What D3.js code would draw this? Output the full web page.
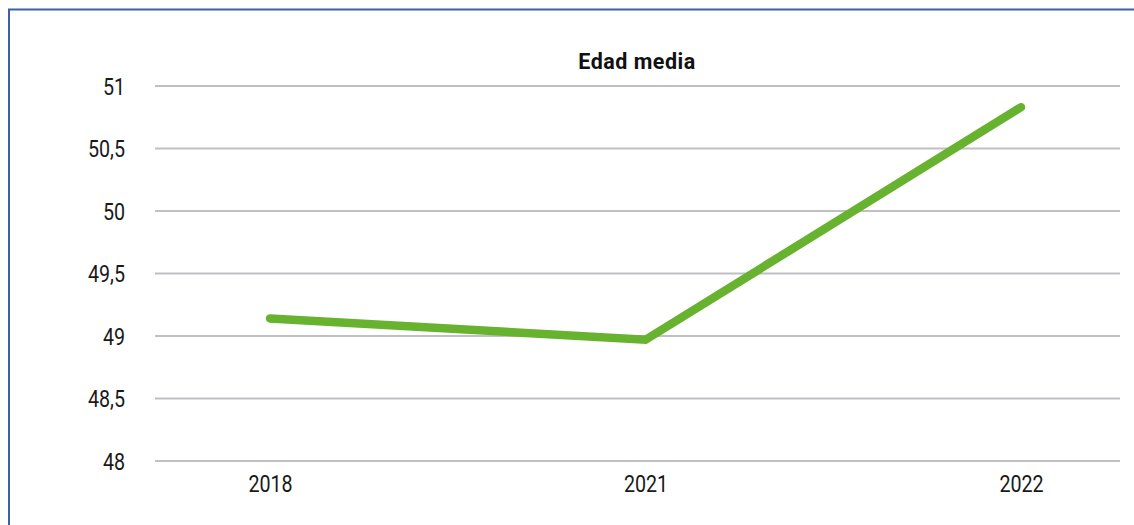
<!DOCTYPE html>
<html>
<head>
<meta charset="utf-8">
<script src="https://cdn.jsdelivr.net/npm/d3@7"></script>
<style>
  html, body { margin: 0; padding: 0; background: #fff; }
  svg { display: block; }
  .tick-label { font-family: "Roboto", "Liberation Sans", sans-serif; font-size: 24px; fill: #1a1a1a; }
  .title { font-family: "Roboto", "Liberation Sans", sans-serif; font-size: 21.5px; font-weight: bold; letter-spacing: 0.5px; fill: #111; }
</style>
</head>
<body>
<svg id="chart" width="1134" height="525"></svg>
<script>
// Average age by year
const years = ["2018", "2021", "2022"];
const edadMedia = [49.14, 48.97, 50.83];
const yTicks = [48, 48.5, 49, 49.5, 50, 50.5, 51];
const chartTitle = "Edad media";

const W = 1134, H = 525;
const svg = d3.select("#chart");

// Frame (left and top edges)
svg.append("path")
  .attr("d", `M9,${H} V9.5 H${W}`)
  .attr("fill", "none")
  .attr("stroke", "#3d5fa8")
  .attr("stroke-width", 2);

const gridLeft = 155, gridRight = 1120;

const y = d3.scaleLinear().domain([48, 51]).range([461, 86]);
const x = d3.scalePoint().domain(years).range([270, 1021]);

const fmt = v => String(v).replace(".", ",");

// Horizontal gridlines
svg.append("g")
  .selectAll("line")
  .data(yTicks)
  .join("line")
  .attr("x1", gridLeft).attr("x2", gridRight)
  .attr("y1", d => y(d)).attr("y2", d => y(d))
  .attr("stroke", "#c0bfc4")
  .attr("stroke-width", 2);

// Condensed look for the axis labels
const narrow = "scale(0.82,1)";

// Y axis labels
const yAxis = d3.axisLeft(y).tickValues(yTicks).tickFormat(fmt).tickSize(0).tickPadding(0);
const gy = svg.append("g").attr("transform", "translate(125,0)").call(yAxis);
gy.select(".domain").remove();
gy.selectAll("text").attr("class", "tick-label").attr("x", 0).attr("dy", "0.35em")
  .attr("fill", null).attr("transform", narrow);

// X axis labels
const xAxis = d3.axisBottom(x).tickSize(0).tickPadding(0);
const gx = svg.append("g").attr("transform", "translate(0,484)").call(xAxis);
gx.select(".domain").remove();
gx.selectAll("text").attr("class", "tick-label").attr("dy", "0.35em").attr("y", 0)
  .attr("fill", null).attr("transform", narrow);

// Series line
const line = d3.line().x((d, i) => x(years[i])).y(d => y(d));
svg.append("path")
  .datum(edadMedia)
  .attr("d", line)
  .attr("fill", "none")
  .attr("stroke", "#67b22e")
  .attr("stroke-width", 8.5)
  .attr("stroke-linecap", "round")
  .attr("stroke-linejoin", "miter");

// Title
svg.append("text")
  .attr("class", "title")
  .attr("x", 637).attr("y", 69)
  .attr("text-anchor", "middle")
  .text(chartTitle);
</script>
</body>
</html>
